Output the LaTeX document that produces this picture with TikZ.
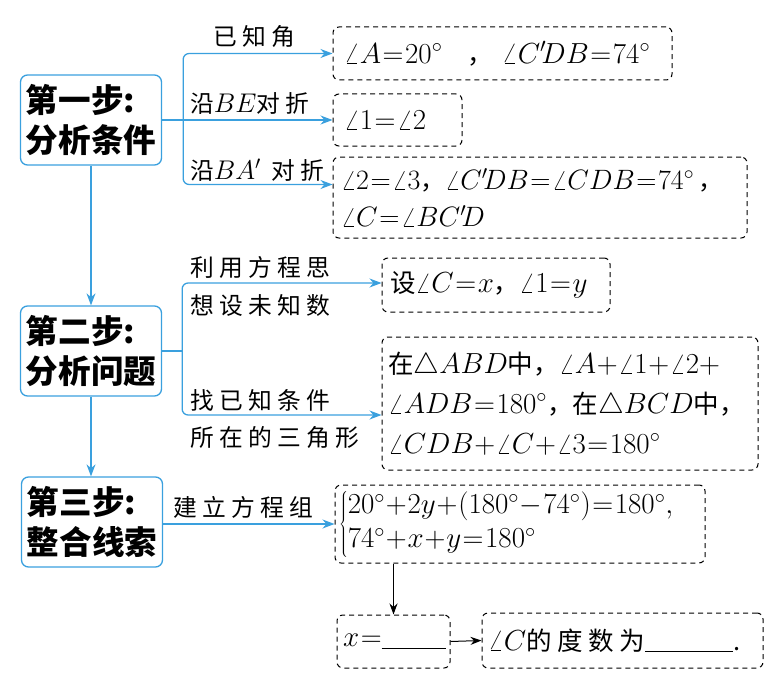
\RequirePackage{fix-cm}
\documentclass[tikz,border=0pt]{standalone}
\usepackage[no-math]{fontspec}
\setmainfont[Scale=0.88]{Noto Sans CJK SC}
\newfontfamily\lblfont[Scale=0.88, LetterSpace=22]{Noto Sans CJK SC}
\usetikzlibrary{arrows.meta}
\definecolor{stepblue}{RGB}{58,160,222}
\newcommand\tightmath{\thickmuskip=1mu\relax\medmuskip=0.5mu\relax}

\tikzset{
  stepbox/.style={draw=stepblue, line width=1.3pt, rounded corners=7pt,
    minimum width=141pt, minimum height=90pt, inner sep=0pt, align=left,
    font=\fontsize{37}{40}\selectfont\bfseries},
  dashbox/.style={draw, dash pattern=on 5pt off 4pt, line width=1pt,
    rounded corners=6pt, inner xsep=11pt, inner ysep=0pt, align=left,
    font=\fontsize{29}{38}\selectfont\tightmath},
  lbl/.style={inner sep=0pt, anchor=west, font=\fontsize{27}{30}\selectfont\lblfont},
  flow/.style={stepblue, line width=1.3pt, -{Stealth[length=12pt,width=9pt]}},
  link/.style={black, line width=1pt, -{Stealth[length=11pt,width=8pt]}}
}

\begin{document}
\begin{tikzpicture}[x=1pt, y=-1pt]
    \useasboundingbox (0,0) rectangle (776,682);

    % Steps
    \node[stepbox] (s1) at (91,120) {第一步:\\分析条件};
    \node[stepbox] (s2) at (91,351) {第二步:\\分析问题};
    \node[stepbox] (s3) at (92,522) {第三步:\\整合线索};

    % Step one: what is known
    \node[dashbox, text width=317pt, minimum height=53pt] (ka) at (502.5,53.5)
        {$\angle A=20^\circ$\quad，\ $\angle C'\!DB=74^\circ$};
    \node[dashbox, text width=107pt, minimum height=52pt] (kb) at (397.5,120)
        {$\angle 1=\angle 2$};
    \node[dashbox, inner xsep=8pt, text width=398pt, minimum height=81pt,
          font=\fontsize{28}{37}\selectfont\tightmath] (kc) at (540,197.5)
        {\mbox{$\angle 2=\angle 3$，$\angle C'\!DB=\angle CDB=74^\circ$\,，}\\
         \mbox{$\angle C=\angle BC'\!D$}};

    % Step two: unknowns and triangles
    \node[dashbox, inner xsep=8pt, text width=212pt, minimum height=54pt] (kd) at (496,285)
        {\mbox{设$\angle C=x$，$\angle 1=y$}};
    \node[dashbox, inner xsep=6pt, text width=364pt, minimum height=133pt,
          font=\fontsize{29}{40}\selectfont\tightmath] (ke) at (570,403.5)
        {\mbox{在$\triangle ABD$中，$\angle A+\angle 1+\angle 2+$}\\
         \mbox{$\angle ADB=180^\circ$，在$\triangle BCD$中，}\\
         \mbox{$\angle CDB+\angle C+\angle 3=180^\circ$}};

    % Step three: system and answer
    \node[dashbox, inner xsep=4pt, text width=362pt, minimum height=78pt] (kf) at (520,524)
        {\renewcommand\arraystretch{0.9}%
         $\left\{\begin{array}{@{}l@{}}
            20^\circ+2y+(180^\circ-74^\circ)=180^\circ,\\
            74^\circ+x+y=180^\circ
         \end{array}\right.$};
    \node[dashbox, inner xsep=6pt, text width=101pt, minimum height=53pt] (kg) at (393.5,641.5)
        {$x=$\underline{\hspace{64pt}}};
    \node[dashbox, inner xsep=6pt, text width=269pt, minimum height=55pt] (kh) at (622.5,640.5)
        {$\angle C${\lblfont 的度数为}\underline{\hspace{88pt}}.};

    % Labels on the branches
    \node[lbl] (la) at (213,37) {已知角};
    \node[lbl] (lb) at (190,103) {沿$BE$对折};
    \node[lbl] (lc) at (190,170) {沿$BA'$ 对折};
    \node[lbl] (ld) at (190,267) {利用方程思};
    \node[lbl] (le) at (190,305) {想设未知数};
    \node[lbl] (lf) at (190,400) {找已知条件};
    \node[lbl] (lg) at (190,438) {所在的三角形};
    \node[lbl] (lh) at (173,507) {建立方程组};

    % Step one branches
    \coordinate (b1) at ([xshift=21pt]s1.east);
    \draw[flow] (s1.east) -- (b1) -- (kb.west);
    \draw[flow, rounded corners=6pt] (b1) |- (ka.west);
    \draw[flow, rounded corners=6pt] (b1) |- ([yshift=13pt]kc.west);

    % Step two branches
    \coordinate (b2) at ([xshift=20pt]s2.east);
    \draw[stepblue, line width=1.3pt] (s2.east) -- (b2);
    \draw[flow, rounded corners=6pt] (b2) |- ([yshift=2pt]kd.west);
    \draw[flow, rounded corners=6pt] (b2) |- ([yshift=-11.5pt]ke.west);

    % Step three
    \draw[flow] (kf.west -| s3.east) -- (kf.west);

    % Steps go down
    \draw[flow] (s1.south) -- (s1.south |- s2.north);
    \draw[flow] (s2.south) -- (s2.south |- s3.north);

    % Solve
    \draw[link] (kf.south -| kg.north) -- (kg.north);
    \draw[link] (kg.east) -- (kh.west);
\end{tikzpicture}
\end{document}
